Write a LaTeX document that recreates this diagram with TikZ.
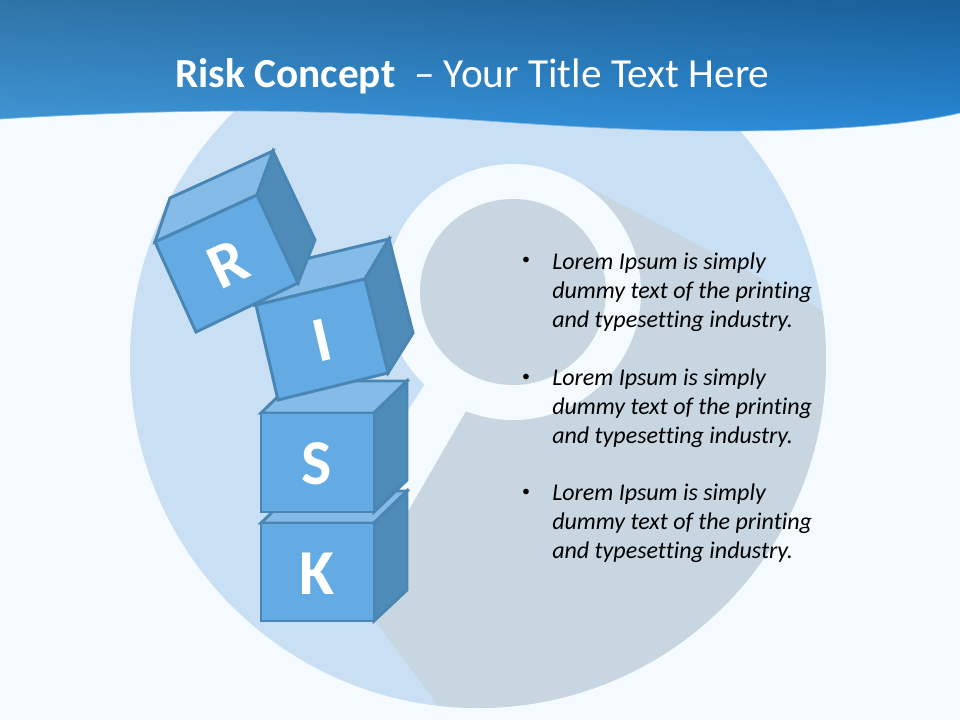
\documentclass[tikz,border=0pt]{standalone}
\usepackage{fontspec}
\setmainfont[Ligatures={NoCommon,NoRare}]{Carlito}
\usetikzlibrary{shadings}
\definecolor{bgc}{HTML}{F5FAFE}
\definecolor{discc}{HTML}{C9DFF3}
\definecolor{shadowc}{HTML}{C7D6E0}
\definecolor{edgec}{HTML}{4A86B4}
\definecolor{frontc}{HTML}{63ABE2}
\definecolor{topc}{HTML}{84BCE7}
\definecolor{sidec}{HTML}{4F8BB8}
\definecolor{ul}{HTML}{2F74A8}
\definecolor{ur}{HTML}{195F98}
\definecolor{ll}{HTML}{4097D6}
\definecolor{lr}{HTML}{2888D6}
\tikzset{
  facefront/.style={fill=frontc,draw=edgec,line width=2.2pt,line join=miter},
  facetop/.style={fill=topc,draw=edgec,line width=2.2pt,line join=miter},
  faceside/.style={fill=sidec,draw=edgec,line width=2.2pt,line join=miter},
  letterlabel/.style={text=white,font=\fontsize{48}{52}\selectfont\bfseries,inner sep=0pt},
  bodytext/.style={anchor=north west,inner sep=0pt,align=left,text=black,
    font=\fontsize{18}{21.6}\selectfont\itshape},
  bulletmark/.style={anchor=base,inner sep=0pt,text=black,font=\fontsize{12}{14}\selectfont}
}
\begin{document}
\begin{tikzpicture}[x=0.75pt,y=-0.75pt]
\useasboundingbox (0,0) rectangle (960,720);
\fill[bgc] (0,0) rectangle (960,720);
% disc
\fill[discc] (478,360) circle (348);
% shadow, clipped to the disc
\begin{scope}
  \clip (478,360) circle (348);
  \fill[shadowc] (585,185) -- (900,352) -- (900,760) -- (478,760) -- (358,597) -- (466,411) -- cycle;
\end{scope}
% magnifier
\fill[bgc] (513,292) circle (128);
\fill[bgc] (425,384) -- (466,411) -- (400,525) -- (350,500) -- cycle;
\fill[shadowc] (513,292) circle (93);
% header band
\shade[lower left=ll,upper left=ul,lower right=lr,upper right=ur]
  (0,0) -- (960,0) -- (960,113) .. controls (900,127) and (810,131) .. (720,131)
  .. controls (640,131) and (560,126) .. (480,120.5)
  .. controls (400,115) and (320,111) .. (240,111)
  .. controls (170,111) and (80,114) .. (0,119) -- cycle;
\draw[color=lr!60!white,line width=0.5pt]
  (960,113) .. controls (900,127) and (810,131) .. (720,131)
  .. controls (640,131) and (560,126) .. (480,120.5)
  .. controls (400,115) and (320,111) .. (240,111)
  .. controls (170,111) and (80,114) .. (0,119);
\node[anchor=base,inner sep=0pt,text=white,font=\fontsize{31}{36}\selectfont] (title) at (472.5,88)
  {\textbf{Risk Concept}\ \ – Your Title Text Here};
% K
\draw[facetop] (261,523) -- (294,491) -- (407,491) -- (374,523) -- cycle;
\draw[faceside] (374,523) -- (407,491) -- (407,590) -- (374,621) -- cycle;
\draw[facefront] (261,523) -- (374,523) -- (374,621) -- (261,621) -- cycle;
\node[letterlabel] (letterK) at (317,574) {K};
% S
\draw[facetop] (261,413) -- (294,381) -- (407,381) -- (374,413) -- cycle;
\draw[faceside] (374,413) -- (407,381) -- (407,480) -- (374,512) -- cycle;
\draw[facefront] (261,413) -- (374,413) -- (374,512) -- (261,512) -- cycle;
\node[letterlabel] (letterS) at (317,464) {S};
% I
\draw[facetop] (256,305) -- (280,265) -- (389,239) -- (365,279) -- cycle;
\draw[faceside] (365,279) -- (389,239) -- (413,333) -- (388,373) -- cycle;
\draw[facefront] (256,305) -- (365,279) -- (388,373) -- (278,400) -- cycle;
\node[letterlabel,rotate=13] (letterI) at (322,340) {I};
% R
\draw[facetop] (155,242) -- (170,198) -- (273,151) -- (257,195) -- cycle;
\draw[faceside] (257,195) -- (273,151) -- (315,240) -- (298,283) -- cycle;
\draw[facefront] (155,242) -- (257,195) -- (298,283) -- (196,332) -- cycle;
\node[letterlabel,rotate=25] (letterR) at (228,264) {R};
% text
\node[bulletmark] (b1) at (526,265) {•};
\node[bodytext] (t1) at (552,253) {Lorem Ipsum is simply\\dummy text of the printing\\and typesetting industry.};
\node[bulletmark] (b2) at (526,381) {•};
\node[bodytext] (t2) at (552,369) {Lorem Ipsum is simply\\dummy text of the printing\\and typesetting industry.};
\node[bulletmark] (b3) at (526,496) {•};
\node[bodytext] (t3) at (552,484) {Lorem Ipsum is simply\\dummy text of the printing\\and typesetting industry.};
\end{tikzpicture}
\end{document}
